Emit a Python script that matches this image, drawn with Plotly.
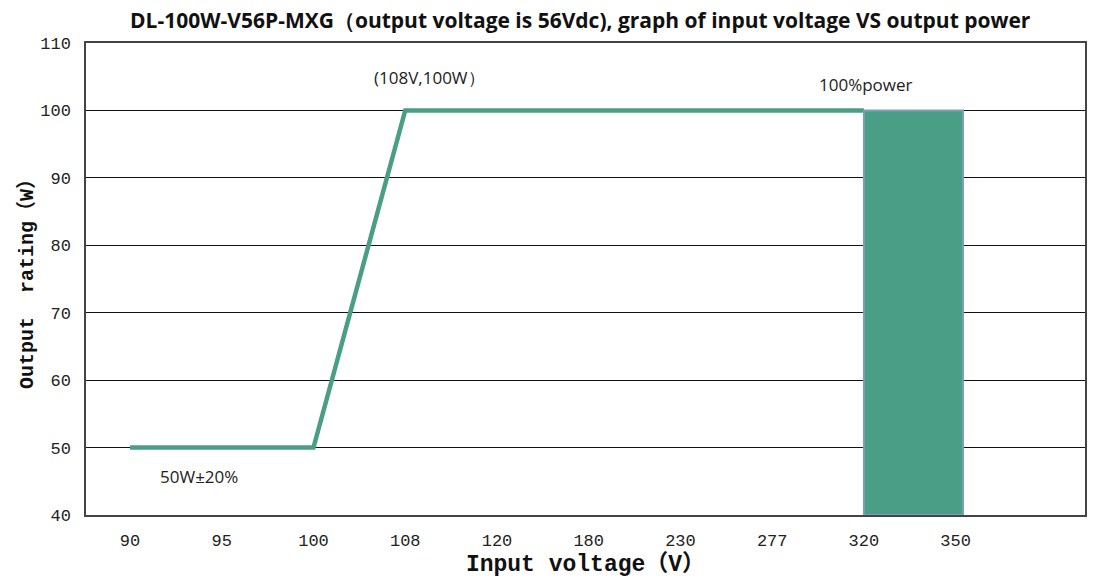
import plotly.graph_objects as go

# ---- data ----
categories = ["90", "95", "100", "108", "120", "180", "230", "277", "320", "350", ""]
line_x = ["90", "95", "100", "108", "120", "180", "230", "277", "320"]
line_y = [50, 50, 50, 100, 100, 100, 100, 100, 100]
band_start = "320"
band_end = "350"
band_low = 40
band_high = 100
y_ticks = [40, 50, 60, 70, 80, 90, 100, 110]

title_text = "DL-100W-V56P-MXG（output voltage is 56Vdc), graph of input voltage VS output power"
x_title = "Input voltage（V）"
y_title = "Output  rating（W）"

teal = "#4a9e86"

fig = go.Figure()
fig.add_trace(go.Scatter(
    x=line_x, y=line_y, mode="lines",
    line=dict(color=teal, width=4.5),
    hoverinfo="skip", showlegend=False,
))

i0 = categories.index(band_start)
i1 = categories.index(band_end)
fig.add_shape(
    type="rect", xref="x", yref="y",
    x0=i0, x1=i1 + 0.08, y0=band_low, y1=band_high,
    fillcolor=teal, line=dict(color="#7d9fb8", width=2), layer="above",
)

ann_font = dict(family="Open Sans, Liberation Sans", size=17, color="#222")
fig.add_annotation(x=categories.index("108"), y=104.95, text="(108V,100W）",
                   showarrow=False, font=ann_font, xshift=24)
fig.add_annotation(x=categories.index("320"), y=103.9, text="100%power",
                   showarrow=False, font=ann_font, xshift=2)
fig.add_annotation(x=categories.index("95"), y=45.7, text="50W±20%",
                   showarrow=False, font=ann_font, xshift=-23)

fig.update_layout(
    width=1101, height=580,
    margin=dict(l=86, r=16, t=43, b=65),
    paper_bgcolor="white", plot_bgcolor="white",
    title=dict(text="<b>" + title_text + "</b>", x=0.527, xanchor="center",
               y=0.965, yanchor="middle",
               font=dict(family="Open Sans, Liberation Sans", size=21, color="#111")),
    xaxis=dict(
        type="category", categoryorder="array", categoryarray=categories,
        range=[-0.48, 10.41], showgrid=False, zeroline=False, automargin=False,
        showline=True, linecolor="#444", linewidth=1.5, mirror=True,
        ticks="", ticklabelstandoff=9,
        tickfont=dict(family="Liberation Mono", size=17, color="#222"),
        title=dict(text="<b>" + x_title + "</b>", standoff=4,
                   font=dict(family="Liberation Mono, Noto Sans CJK SC", size=23, color="#111")),
    ),
    yaxis=dict(
        range=[40, 110], tickvals=y_ticks, showgrid=True, automargin=False,
        gridcolor="#111", gridwidth=1, zeroline=False,
        showline=True, linecolor="#444", linewidth=1.5, mirror=True,
        ticks="", ticklabelstandoff=10,
        tickfont=dict(family="Liberation Mono", size=17, color="#222"),
        title=dict(text="<b>" + y_title + "</b>", standoff=1,
                   font=dict(family="Liberation Mono, Noto Sans CJK SC", size=20, color="#111")),
    ),
)

fig.write_html("out.html", config={"displayModeBar": False},
               post_script="document.body.style.margin='0';")
